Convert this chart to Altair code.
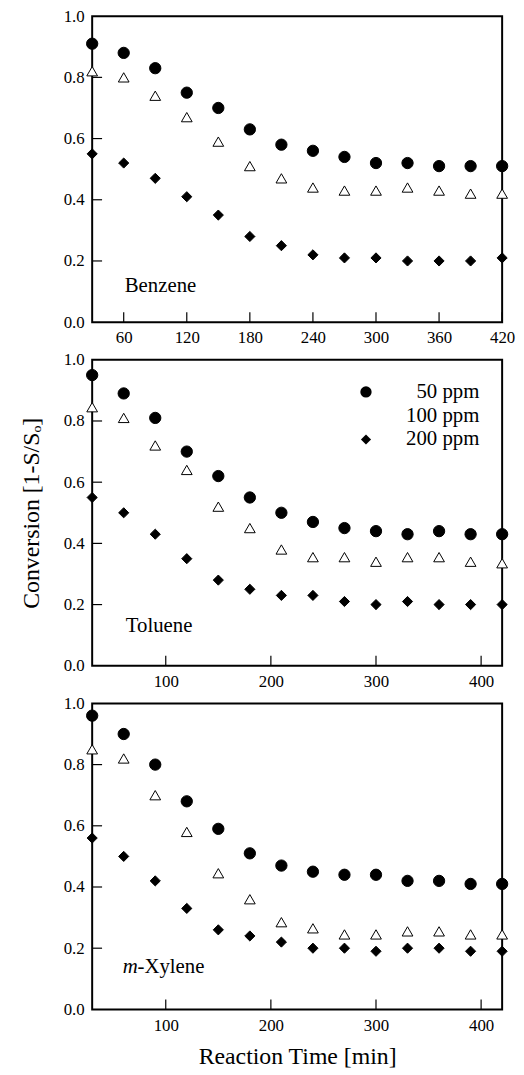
import altair as alt
import pandas as pd

times = [30, 60, 90, 120, 150, 180, 210, 240, 270, 300, 330, 360, 390, 420]
series = ["50 ppm", "100 ppm", "200 ppm"]

benzene_50 = [0.91, 0.88, 0.83, 0.75, 0.70, 0.63, 0.58, 0.56, 0.54, 0.52, 0.52, 0.51, 0.51, 0.51]
benzene_100 = [0.82, 0.80, 0.74, 0.67, 0.59, 0.51, 0.47, 0.44, 0.43, 0.43, 0.44, 0.43, 0.42, 0.42]
benzene_200 = [0.55, 0.52, 0.47, 0.41, 0.35, 0.28, 0.25, 0.22, 0.21, 0.21, 0.20, 0.20, 0.20, 0.21]

toluene_50 = [0.95, 0.89, 0.81, 0.70, 0.62, 0.55, 0.50, 0.47, 0.45, 0.44, 0.43, 0.44, 0.43, 0.43]
toluene_100 = [0.845, 0.81, 0.72, 0.64, 0.52, 0.45, 0.38, 0.355, 0.355, 0.34, 0.355, 0.355, 0.34, 0.335]
toluene_200 = [0.55, 0.50, 0.43, 0.35, 0.28, 0.25, 0.23, 0.23, 0.21, 0.20, 0.21, 0.20, 0.20, 0.20]

xylene_50 = [0.96, 0.90, 0.80, 0.68, 0.59, 0.51, 0.47, 0.45, 0.44, 0.44, 0.42, 0.42, 0.41, 0.41]
xylene_100 = [0.85, 0.82, 0.70, 0.58, 0.445, 0.36, 0.285, 0.265, 0.245, 0.245, 0.255, 0.255, 0.245, 0.245]
xylene_200 = [0.56, 0.50, 0.42, 0.33, 0.26, 0.24, 0.22, 0.20, 0.20, 0.19, 0.20, 0.20, 0.19, 0.19]

x_ticks_top = [60, 120, 180, 240, 300, 360, 420]
x_ticks_other = [100, 200, 300, 400]
y_ticks = [0.0, 0.2, 0.4, 0.6, 0.8, 1.0]
y_inner_ticks = [0.2, 0.4, 0.6, 0.8]

FONT = "Liberation Serif"
W, H = 414, 309
TICK = 10


def panel(v50, v100, v200, xticks, label_parts, label_pos, show_legend, ytitle, xtitle):
    rows = []
    for s, vals in zip(series, [v50, v100, v200]):
        for t, v in zip(times, vals):
            rows.append({"time": t, "conv": v, "series": s})
    df = pd.DataFrame(rows)

    xscale = alt.Scale(domain=[30, 420], nice=False, zero=False)
    yscale = alt.Scale(domain=[0, 1], nice=False)
    xaxis = alt.Axis(values=xticks, format="d", title=xtitle if xtitle else "", labelFlush=False)
    yaxis = alt.Axis(values=y_ticks, format=".1f", title=ytitle if ytitle else "")

    def X(field):
        return alt.X(field, scale=xscale, axis=xaxis)

    def Y(field):
        return alt.Y(field, scale=yscale, axis=yaxis)

    legend = None
    if show_legend:
        legend = alt.Legend(
            title=None, orient="none", legendX=266, legendY=22,
            labelFont=FONT, labelFontSize=21, labelColor="black",
            labelAlign="right", labelOffset=104,
            symbolStrokeColor="black", symbolStrokeWidth=1,
            rowPadding=2, padding=0,
        )

    pts = alt.Chart(df).mark_point(filled=True, stroke="black", strokeWidth=1, opacity=1).encode(
        x=X("time:Q"),
        y=Y("conv:Q"),
        shape=alt.Shape("series:N", scale=alt.Scale(domain=series, range=["circle", "triangle-up", "diamond"]),
                        legend=legend),
        fill=alt.Fill("series:N", scale=alt.Scale(domain=series, range=["black", "white", "black"]),
                      legend=legend),
        size=alt.Size("series:N", scale=alt.Scale(domain=series, range=[130, 105, 220]),
                      legend=legend),
    )

    xt = alt.Chart(pd.DataFrame({"time": xticks})).mark_rule(color="black", strokeWidth=1.2).encode(
        x=X("time:Q"),
        y=alt.value(H), y2=alt.value(H - TICK),
    )
    yt = alt.Chart(pd.DataFrame({"conv": y_inner_ticks})).mark_rule(color="black", strokeWidth=1.2).encode(
        y=Y("conv:Q"),
        x=alt.value(0), x2=alt.value(TICK),
    )

    layers = [xt, yt, pts]
    lx, ly = label_pos
    dx = 0
    for txt, style in label_parts:
        lab = alt.Chart(pd.DataFrame({"time": [lx], "conv": [ly], "txt": [txt]})).mark_text(
            font=FONT, fontSize=21, fontStyle=style, align="left", baseline="alphabetic",
            color="black", dx=dx,
        ).encode(
            x=X("time:Q"),
            y=Y("conv:Q"),
            text="txt:N",
        )
        layers.append(lab)
        dx += 15

    return alt.layer(*layers).properties(width=W, height=H)


p1 = panel(benzene_50, benzene_100, benzene_200, x_ticks_top,
           [("Benzene", "normal")], (61, 0.10), False, None, None)
p2 = panel(toluene_50, toluene_100, toluene_200, x_ticks_other,
           [("Toluene", "normal")], (62, 0.11), True, "Conversion [1-S/Sₒ]", None)
p3 = panel(xylene_50, xylene_100, xylene_200, x_ticks_other,
           [("m", "italic"), ("-Xylene", "normal")], (59, 0.12), False, None, "Reaction Time [min]")

chart = alt.vconcat(p1, p2, p3, spacing=38, bounds="flush").resolve_legend(
    shape="independent", fill="independent", size="independent"
).properties(
    padding={"left": 10, "top": -7, "right": 0, "bottom": 0},
    background="white",
).configure_view(
    stroke="black", strokeWidth=2
).configure_axis(
    labelFont=FONT, labelFontSize=17, labelColor="black",
    titleFont=FONT, titleFontSize=24, titleColor="black", titleFontWeight="normal",
    ticks=False, domain=False, grid=False, labelPadding=8,
).configure_axisY(
    titlePadding=20
).configure_axisX(
    titlePadding=12
)

chart.save("out.html", embed_options={"renderer": "svg", "actions": False})
